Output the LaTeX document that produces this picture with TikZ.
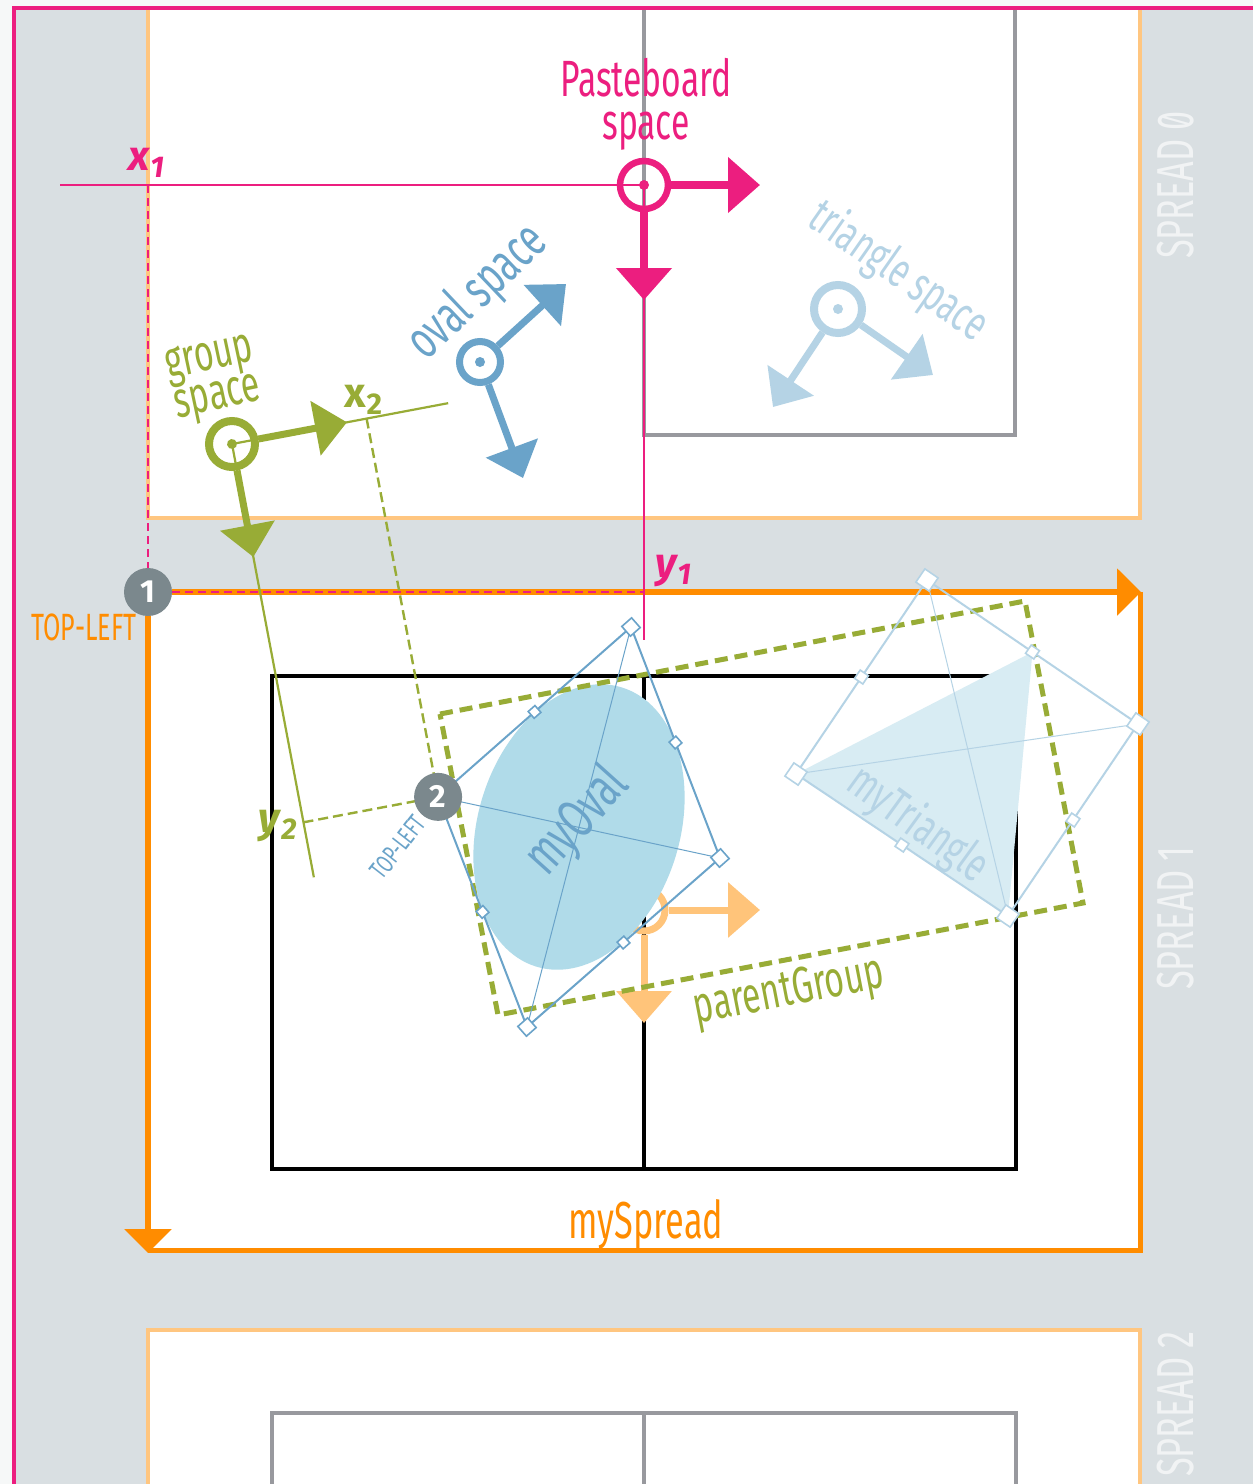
\documentclass[tikz,border=0pt]{standalone}
\usepackage{fontspec}
\setmainfont{Fira Sans}
\newfontfamily\cond{Fira Sans}[FakeStretch=0.66]
\newfontfamily\condzero{Fira Sans}[FakeStretch=0.66,Numbers=SlashedZero]
\usetikzlibrary{arrows.meta,calc}
\definecolor{pbpink}{RGB}{236,30,127}
\definecolor{pbgray}{RGB}{217,223,226}
\definecolor{outerbg}{RGB}{246,248,248}
\definecolor{paleorange}{RGB}{255,198,128}
\definecolor{sporange}{RGB}{255,140,0}
\definecolor{lightorange}{RGB}{255,196,122}
\definecolor{pagegray}{RGB}{152,153,158}
\definecolor{grpolive}{RGB}{152,172,54}
\definecolor{ovalblue}{RGB}{106,163,201}
\definecolor{ovalfill}{RGB}{176,219,233}
\definecolor{triblue}{RGB}{181,211,229}
\definecolor{trifill}{RGB}{216,236,243}
\definecolor{dotgray}{RGB}{123,136,141}
\definecolor{spreadtxt}{RGB}{241,243,244}
\newcommand{\sublabel}[2]{#1\kern0.5pt\lower3.5pt\hbox{\fontsize{15}{15}\selectfont #2}}

\begin{document}
\begin{tikzpicture}[x=0.5pt,y=-0.5pt,
  ring/.style={circle,inner sep=0pt,minimum size=#1},
  axarrow/.style={line width=3.5pt,-{Triangle[length=16pt,width=27pt]}},
  guide/.style={line width=1.25pt},
  dashguide/.style={line width=1.3pt,dash pattern=on 4pt off 2.5pt},
  handle/.style={draw,fill=white,line width=0.8pt,inner sep=0pt,minimum size=#1},
  originnum/.style={circle,fill=dotgray,text=white,inner sep=0pt,minimum size=24pt,
    font=\bfseries\fontsize{16}{16}\selectfont},
  spreadlbl/.style={rotate=90,text=spreadtxt,font=\condzero\fontsize{26}{26}\selectfont},
  cname/.style={font=\cond\fontsize{#1}{#1}\selectfont},
  coordlbl/.style={font=\bfseries\fontsize{21}{21}\selectfont}]
  \useasboundingbox (0,0) rectangle (1253,1484);
  % pasteboard
  \fill[outerbg] (0,0) rectangle (1253,1484);
  \fill[pbgray] (14,8) rectangle (1253,1484);

  % spread 0
  \fill[white] (148,8) rectangle (1140,518);
  \draw[paleorange,line width=2pt] (148,8) -- (148,518) -- (1140,518) -- (1140,8);
  \draw[pagegray,line width=2pt] (644,8) -- (644,435) -- (1015,435) -- (1015,8);

  % spread 1
  \fill[white] (148,592) rectangle (1140,1250);
  \draw[sporange,line width=2.5pt] (1140,592) -- (1140,1250) -- (148,1250);
  \draw[black,line width=2.25pt] (272,676) rectangle (1016,1169) (644,676) -- (644,1169);

  % spread 2
  \fill[white] (148,1330) rectangle (1140,1490);
  \draw[paleorange,line width=2pt] (148,1490) -- (148,1330) -- (1140,1330) -- (1140,1490);
  \draw[pagegray,line width=2pt] (272,1490) -- (272,1413) -- (1016,1413) -- (1016,1490)
    (644,1413) -- (644,1490);

  \node[spreadlbl] (s0) at (1176,185) {SPREAD 0};
  \node[spreadlbl] (s1) at (1176,918) {SPREAD 1};
  \node[spreadlbl] (s2) at (1176,1404) {SPREAD 2};

  \draw[pbpink,line width=2pt] (14,1490) -- (14,8) -- (1260,8);

  % spread origin
  \node[originnum] (n1) at (148,592) {1};
  \coordinate (sx) at (1141,592);
  \coordinate (sy) at (148,1253);
  \draw[sporange,line width=3pt,-{Triangle[length=12pt,width=23pt]}] (n1) -- (sx);
  \draw[sporange,line width=3pt,-{Triangle[length=12pt,width=23pt]}] (n1) -- (sy);
  \node[text=sporange,cname=19] (tl1) at (84,627) {TOP-LEFT};
  \node[text=sporange,cname=26] (spname) at (646,1225) {mySpread};

  % group space
  \begin{scope}[shift={(232,444)},rotate=10.7]
    \coordinate (gx) at (117,0);
    \coordinate (gy) at (0,115);
    \coordinate (gxend) at (220,0);
    \coordinate (gyend) at (0,441);
    \coordinate (x2) at (137,0);
    \coordinate (y2) at (0,385);
    \coordinate (ovTL) at (137,385);
    \draw[grpolive,line width=1.1pt] (0,0) -- (gxend) (0,0) -- (gyend);
    \draw[grpolive,line width=1.2pt,dash pattern=on 5pt off 2.5pt] (x2) -- (ovTL) (y2) -- (ovTL);
    \node[ring=23pt,draw=grpolive,line width=4pt] (gs) at (0,0) {};
    \fill[grpolive] (gs) circle (5);
    \draw[axarrow,grpolive] (gs) -- (gx);
    \draw[axarrow,grpolive] (gs) -- (gy);
    \node[text=grpolive,coordlbl] (x2lbl) at (137,-19) {\sublabel{x}{2}};
    \node[text=grpolive,coordlbl] (y2lbl) at (-26,384) {\itshape\sublabel{y}{2}};
  \end{scope}
  \node[text=grpolive,align=center,rotate=12,font=\cond\fontsize{25.5}{18}\selectfont]
    (gname) at (214,380) {group\\space};

  % oval space
  \node[ring=20.5pt,draw=ovalblue,line width=3.5pt] (os) at (480,362) {};
  \fill[ovalblue] (os) circle (5);
  \coordinate (osx) at (566,284);
  \coordinate (osy) at (523,478);
  \draw[axarrow,ovalblue] (os) -- (osx);
  \draw[axarrow,ovalblue] (os) -- (osy);
  \node[text=ovalblue,cname=27,rotate=43.6] (osname) at (478,293) {oval space};

  % triangle space
  \node[ring=24pt,draw=triblue,line width=4pt] (ts) at (838,309) {};
  \fill[triblue] (ts) circle (5);
  \coordinate (tsx) at (933,375);
  \coordinate (tsy) at (773,407);
  \draw[axarrow,triblue] (ts) -- (tsx);
  \draw[axarrow,triblue] (ts) -- (tsy);
  \node[text=triblue,cname=24.5,rotate=-35] (tsname) at (898,272) {triangle space};

  % parent group origin
  \node[ring=21pt,draw=lightorange,line width=3.5pt] (po) at (644,910) {};
  \coordinate (pox) at (760,910);
  \coordinate (poy) at (644,1023);
  \draw[axarrow,lightorange] (po) -- (pox);
  \draw[axarrow,lightorange] (po) -- (poy);

  % myOval
  \coordinate (ovTR) at (631,627);
  \coordinate (ovBR) at (720,858);
  \coordinate (ovBL) at (527,1027);
  \fill[ovalfill,rotate around={73:(579,827)}] (579,827) ellipse [x radius=146,y radius=101];
  \node[text=ovalblue,cname=28,rotate=48] (ovname) at (578,822) {myOval};

  % myTriangle
  \coordinate (trT) at (927,580);
  \coordinate (trR) at (1138,724);
  \coordinate (trB) at (1008,916);
  \coordinate (trL) at (796,774);
  \fill[trifill] (trL) -- ($(trT)!0.5!(trR)$) -- (trB) -- cycle;
  \node[text=triblue,cname=24.5,rotate=-36] (trname) at (918,825) {myTriangle};

  % parentGroup bounds
  \draw[grpolive,line width=2.5pt,dash pattern=on 6.5pt off 3.5pt]
    (440,714) -- (1025,601) -- (1083,903) -- (498,1015) -- cycle;
  \node[text=grpolive,cname=25.5,rotate=11] (pgname) at (789,993) {parentGroup};

  % selection boxes
  \draw[ovalblue,line width=1pt] (ovTL) -- (ovTR) -- (ovBR) -- (ovBL) -- cycle;
  \draw[ovalblue,line width=0.5pt] (ovTL) -- (ovBR) (ovTR) -- (ovBL);
  \foreach \c in {ovTR,ovBR,ovBL}
    \node[handle=6.5pt,draw=ovalblue,rotate=41.4] at (\c) {};
  \foreach \a/\b in {ovTL/ovTR,ovTR/ovBR,ovBR/ovBL,ovBL/ovTL}
    \node[handle=4.5pt,draw=ovalblue,rotate=41.4] at ($(\a)!0.5!(\b)$) {};
  \draw[triblue,line width=1pt] (trT) -- (trR) -- (trB) -- (trL) -- cycle;
  \draw[triblue,line width=0.5pt] (trT) -- (trB) (trL) -- (trR);
  \foreach \c in {trT,trR,trB,trL}
    \node[handle=8pt,draw=triblue,rotate=-34.3] at (\c) {};
  \foreach \a/\b in {trT/trR,trR/trB,trB/trL,trL/trT}
    \node[handle=5pt,draw=triblue,rotate=-34.3] at ($(\a)!0.5!(\b)$) {};

  \node[originnum] (n2) at (ovTL) {2};
  \node[text=ovalblue,cname=13,rotate=52] (tl2) at (398,847) {TOP-LEFT};

  % pasteboard space
  \node[ring=24pt,draw=pbpink,line width=3.25pt] (pb) at (644,185) {};
  \coordinate (pbx) at (760,185);
  \coordinate (pby) at (644,300);
  \coordinate (x1) at (148,185);
  \coordinate (xstart) at (60,185);
  \coordinate (y1) at (644,592);
  \coordinate (yend) at (644,640);
  \draw[pbpink,guide] (xstart) -- (pb.center) -- (yend);
  \draw[pbpink,dashguide] (x1) -- (n1) -- (y1);
  \fill[pbpink] (pb) circle (5);
  \draw[axarrow,pbpink,line width=4pt] (pb) -- (pbx);
  \draw[axarrow,pbpink,line width=4pt] (pb) -- (pby);
  \node[text=pbpink,coordlbl] (x1lbl) at (146,163) {\itshape\sublabel{x}{1}};
  \node[text=pbpink,coordlbl] (y1lbl) at (673,571) {\itshape\sublabel{y}{1}};
  \node[text=pbpink,align=center,font=\cond\fontsize{25.5}{21.5}\selectfont]
    (pbname) at (646,104) {Pasteboard\\space};
\end{tikzpicture}
\end{document}
